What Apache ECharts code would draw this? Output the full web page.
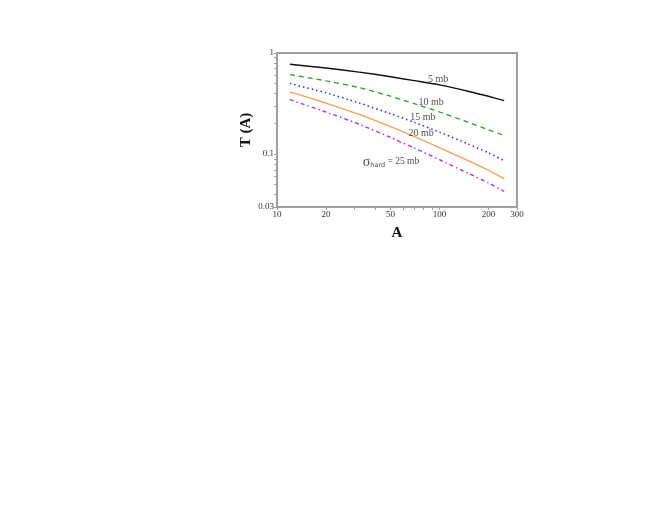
<!DOCTYPE html>
<html>
<head>
<meta charset="utf-8">
<script src="https://cdn.jsdelivr.net/npm/echarts@6/dist/echarts.min.js"></script>
<style>html,body{margin:0;padding:0;background:#fff}#c{width:660px;height:510px}</style>
</head>
<body>
<div id="c"></div>
<script>
const massNumbers = [12, 20, 32, 50, 70, 100, 150, 200, 250];
const t5mb  = [0.774, 0.710, 0.647, 0.583, 0.533, 0.484, 0.419, 0.373, 0.338];
const t10mb = [0.612, 0.531, 0.455, 0.374, 0.316, 0.261, 0.207, 0.174, 0.153];
const t15mb = [0.500, 0.404, 0.321, 0.251, 0.206, 0.165, 0.126, 0.103, 0.086];
const t20mb = [0.413, 0.320, 0.247, 0.187, 0.149, 0.116, 0.0863, 0.0693, 0.057];
const t25mb = [0.346, 0.261, 0.198, 0.146, 0.115, 0.088, 0.0647, 0.0519, 0.0428];
const xTickLabels = [10, 20, 50, 100, 200, 300];
const xMinorTicks = [10, 20, 30, 40, 50, 60, 70, 80, 90, 100, 200, 300];
const yTickLabels = [0.03, 0.1, 1];
const yMinorTicks = [0.03, 0.04, 0.05, 0.06, 0.07, 0.08, 0.09, 0.1, 0.2, 0.3, 0.4, 0.5, 0.6, 0.7, 0.8, 0.9, 1];
const curveLabels = [
  {text: '5 mb', at: [98, 0.551]},
  {text: '10 mb', at: [88.7, 0.327]},
  {text: '15 mb', at: [79, 0.233]},
  {text: '20 mb', at: [77, 0.162]}
];
const sigmaLabelAt = [50.3, 0.0838];

const serif = '"Liberation Serif","DejaVu Serif",serif';
const pairs = v => massNumbers.map((a, i) => [a, v[i]]);

function mkSeries(name, vals, color, type, width) {
  return {
    name, type: 'line', data: pairs(vals), showSymbol: false, smooth: 0.2,
    lineStyle: {color, width, type}, silent: true, z: 3
  };
}

const series = [
  mkSeries('5', t5mb, '#111111', 'solid', 1.5),
  mkSeries('10', t10mb, '#2e9a2e', [5, 4], 1.3),
  mkSeries('15', t15mb, '#2a2aff', [1.5, 3], 1.5),
  mkSeries('20', t20mb, '#f4a25a', 'solid', 1.4),
  mkSeries('25', t25mb, '#c030c0', [4, 3, 1.5, 3], 1.4)
];
series.push({
  type: 'scatter', symbolSize: 0, silent: true, z: 5,
  data: curveLabels.map(l => ({value: l.at, label: {show: true, formatter: l.text}})),
  label: {show: true, position: 'inside', fontFamily: serif, fontSize: 10, color: '#222'}
});
series.push({
  type: 'scatter', symbolSize: 0, silent: true, z: 5,
  data: [{value: sigmaLabelAt}],
  label: {
    show: true, position: 'inside',
    formatter: '{s|σ}{sub|hard}{n| = 25 mb}',
    rich: {
      s: {fontFamily: serif, fontSize: 14, color: '#222'},
      sub: {fontFamily: '"DejaVu Sans",sans-serif', fontSize: 6.5, color: '#222', verticalAlign: 'bottom', padding: [6, 0, 0, 0]},
      n: {fontFamily: serif, fontSize: 9.5, color: '#222'}
    }
  }
});

const chart = echarts.init(document.getElementById('c'), null, {renderer: 'canvas'});
chart.setOption({
  animation: false,
  grid: {left: 277, top: 53, right: 143, bottom: 303, show: true, borderColor: '#a0a0a0', borderWidth: 2, backgroundColor: 'transparent'},
  xAxis: {
    type: 'log', logBase: 10, min: 10, max: 300,
    name: 'A', nameLocation: 'middle', nameGap: 19,
    nameTextStyle: {fontFamily: serif, fontSize: 15, fontWeight: 'bold', color: '#111'},
    axisLine: {show: true, lineStyle: {color: '#a0a0a0', width: 2}},
    axisTick: {show: true, length: 3, inside: false, customValues: xMinorTicks, lineStyle: {color: '#a0a0a0'}},
    axisLabel: {customValues: xTickLabels, fontFamily: serif, fontSize: 9, color: '#333', margin: 3},
    splitLine: {show: false}, minorTick: {show: false}
  },
  yAxis: {
    type: 'log', logBase: 10, min: 0.03, max: 1,
    name: 'T (A)', nameLocation: 'middle', nameGap: 23, nameRotate: 90,
    nameTextStyle: {fontFamily: serif, fontSize: 15, fontWeight: 'bold', color: '#111'},
    axisLine: {show: true, lineStyle: {color: '#a0a0a0', width: 2}},
    axisTick: {show: true, length: 3, inside: false, customValues: yMinorTicks, lineStyle: {color: '#a0a0a0'}},
    axisLabel: {customValues: yTickLabels, fontFamily: serif, fontSize: 9, color: '#333', margin: 3},
    splitLine: {show: false}, minorTick: {show: false}
  },
  series
});
</script>
</body>
</html>
